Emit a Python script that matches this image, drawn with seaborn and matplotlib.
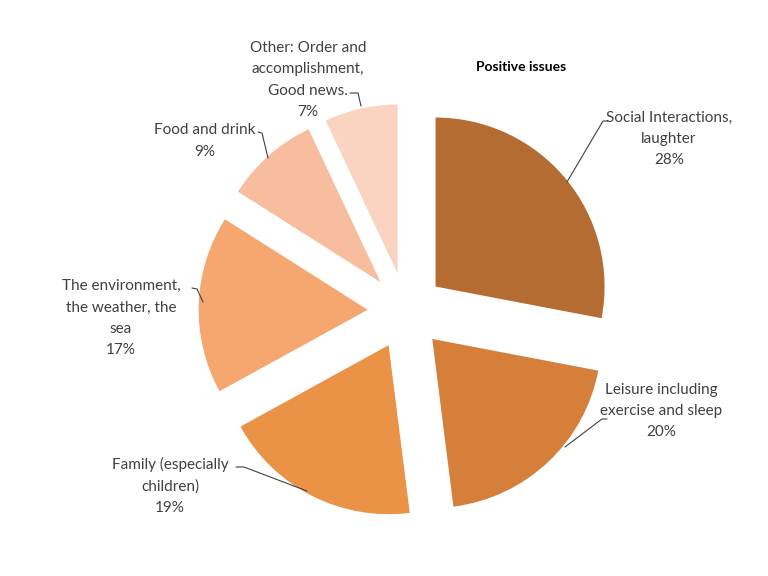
import matplotlib
matplotlib.use("Agg")
import matplotlib.pyplot as plt
import seaborn as sns

# ==================== 数据 ====================
categories = [
    "Social Interactions,\nlaughter",
    "Leisure including\nexercise and sleep",
    "Family (especially\nchildren)",
    "The environment,\nthe weather, the\nsea",
    "Food and drink",
    "Other: Order and\naccomplishment,\nGood news.",
]
shares = [28, 20, 19, 17, 9, 7]
colors = ["#B46C32", "#D57F3A", "#EA9246", "#F5A76F", "#F8BD9E", "#FBD3C1"]

sns.set_theme(style="white")
plt.rcParams["font.family"] = ["Lato", "DejaVu Sans"]

fig = plt.figure(figsize=(7.68, 5.76), dpi=100)
ax = fig.add_axes([0, 0, 1, 1])

# 像素 -> 数据坐标（半径 1 = 169 px，圆心在 (406, 311)）
R, CX, CY = 169, 406, 311

def px(x, y):
    return ((x - CX) / R, (CY - y) / R)

wedges, _ = ax.pie(
    shares,
    colors=colors,
    startangle=90,
    counterclock=False,
    explode=[0.227] * len(shares),
    radius=1,
    wedgeprops=dict(linewidth=0),
)

# 标签位置（文字中心）与引线折线（像素）
label_pos = [(669, 139), (661, 411), (170, 486), (121, 318), (205, 141), (308, 80)]
leader = [
    [(608, 121), (603, 121), (567, 182)],
    [(607, 419), (602, 419), (565, 447)],
    [(236, 467), (244, 467), (307, 491)],
    [(192, 288), (197, 289), (203, 302)],
    [(258, 132), (262, 133), (268, 158)],
    [(350, 93), (358, 93), (361, 106)],
]

for i, cat in enumerate(categories):
    tx, ty = px(*label_pos[i])
    ax.text(tx, ty, f"{cat}\n{shares[i]}%", ha="center", va="center",
            fontsize=11, color="#404040", linespacing=1.65)
    pts = [px(x, y) for x, y in leader[i]]
    ax.plot([p[0] for p in pts], [p[1] for p in pts], color="#404040", linewidth=0.8)

ax.text(*px(521, 67), "Positive issues", ha="center", va="center",
        fontsize=10, fontweight="bold", color="black")

ax.set_xlim(-CX / R, (768 - CX) / R)
ax.set_ylim(-(576 - CY) / R, CY / R)
ax.set_aspect("auto")
ax.axis("off")

plt.savefig("out.png", dpi=100)
